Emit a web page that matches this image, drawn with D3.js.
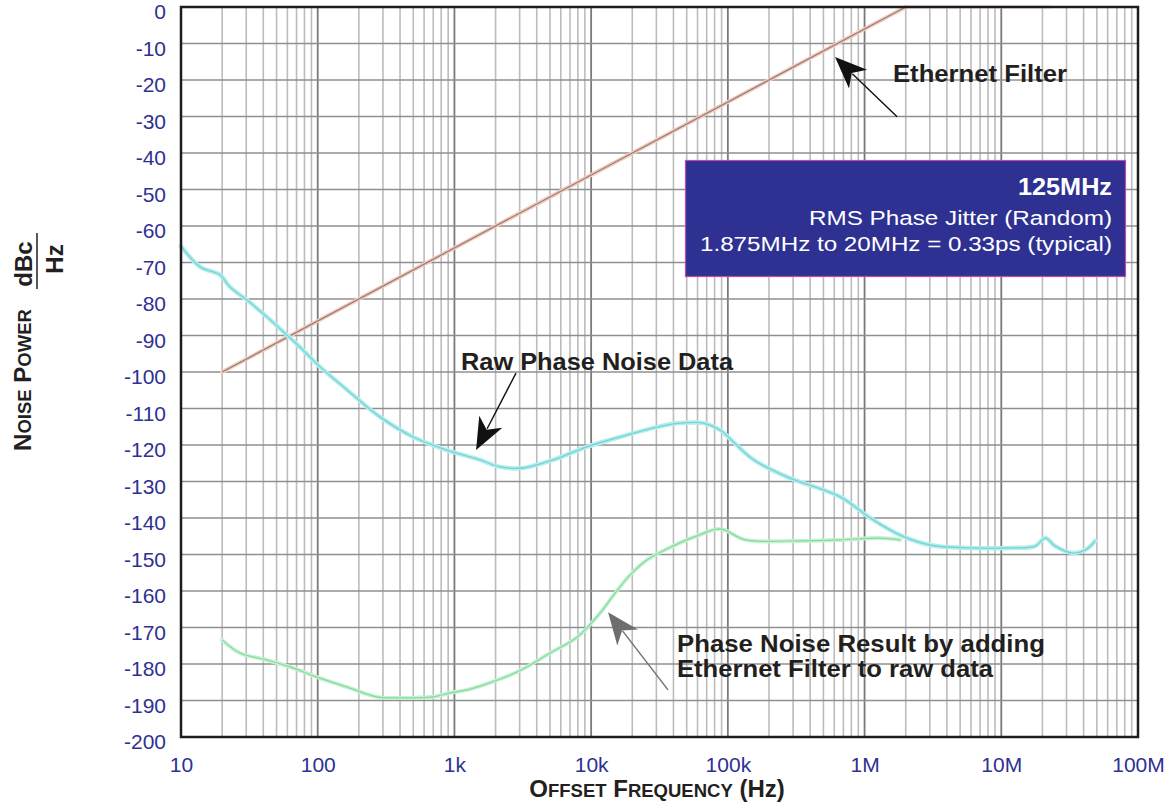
<!DOCTYPE html>
<meta charset="utf-8">
<style>
  body { margin: 0; background: #fff; }
  text { font-family: "Liberation Sans", Arial, Helvetica, sans-serif; }
</style>

<!-- Load d3.js -->
<script src="https://d3js.org/d3.v7.min.js"></script>

<div id="my_dataviz"></div>

<script>

// tick values and labels
var freqTicks = [10, 100, 1e3, 1e4, 1e5, 1e6, 1e7, 1e8];
var freqLabels = ["10", "100", "1k", "10k", "100k", "1M", "10M", "100M"];
var dbTicks = [0, -10, -20, -30, -40, -50, -60, -70, -80, -90, -100,
               -110, -120, -130, -140, -150, -160, -170, -180, -190, -200];

// raw phase noise
var rawFreq = [10, 13.8, 19.3, 22.8, 30.4, 42.5, 59.6, 74.3, 104, 164, 285, 499, 880,
               1540, 2160, 3170, 5270, 9320, 16300, 28600, 45000, 66000, 87800, 110000,
               155000, 273000, 662000, 1.1e6, 1.82e6, 3.01e6, 5.91e6, 1.16e7, 1.77e7,
               2.1e7, 2.48e7, 3.32e7, 4.1e7, 4.86e7];
var rawDb = [-65.5, -71.2, -73.4, -76.7, -80.3, -84.9, -89.9, -93.2, -98.6, -104.9, -112.3,
             -117.8, -121.4, -124.1, -126.0, -126.3, -124.1, -120.5, -117.8, -115.3, -114.0,
             -114.0, -115.9, -119.2, -124.1, -128.8, -134.2, -140.0, -144.7, -147.4, -148.2,
             -148.2, -147.7, -145.5, -147.7, -149.6, -148.8, -146.3];

// ethernet filter
var filterFreq = [20, 2e6];
var filterDb = [-100, 0];
var filterFlatFreq = [2e6, 2.27e7];
var filterFlatDb = [0, 0];

// raw data + filter
var resultFreq = [20, 27, 42.5, 62.7, 98.8, 172, 271, 400, 697, 930, 1240, 1620, 2870,
                  5020, 7930, 11650, 14600, 19300, 25600, 39500, 59500, 88000, 134000,
                  285000, 662000, 1.28e6, 1.82e6];
var resultDb = [-173.4, -177.0, -178.9, -180.8, -183.6, -186.6, -189.0, -189.3, -189.0,
                -187.9, -187.1, -185.8, -182.2, -177.0, -172.6, -166.0, -161.1, -155.6,
                -151.5, -147.7, -144.9, -143.0, -146.0, -146.3, -146.0, -145.5, -146.0];

// set the dimensions and margins of the graph
var margin = {top: 7, right: 27, bottom: 68, left: 181},
    width = 1165 - margin.left - margin.right,
    height = 805 - margin.top - margin.bottom;

var svg0 = d3.select("#my_dataviz")
  .append("svg")
    .attr("width", 1165)
    .attr("height", 805);

var svg = svg0.append("g")
    .attr("transform", "translate(" + margin.left + "," + margin.top + ")");

var x = d3.scaleLog().domain([10, 1e8]).range([0, width]);
var y = d3.scaleLinear().domain([-200, 0]).range([height, 0]);

// grid: minor log lines, then decades, then horizontal
var minor = [];
freqTicks.slice(0, -1).forEach(function(dec) {
  for (var k = 2; k <= 9; k++) minor.push(dec * k);
});
svg.append("g").selectAll("line").data(minor).enter().append("line")
  .attr("x1", function(d) { return x(d); }).attr("x2", function(d) { return x(d); })
  .attr("y1", 0).attr("y2", height)
  .attr("stroke", "#bcbcbc").attr("stroke-width", 1.6);
svg.append("g").selectAll("line").data(freqTicks).enter().append("line")
  .attr("x1", function(d) { return x(d); }).attr("x2", function(d) { return x(d); })
  .attr("y1", 0).attr("y2", height)
  .attr("stroke", "#7a7a7a").attr("stroke-width", 1.8);
svg.append("g").selectAll("line").data(dbTicks).enter().append("line")
  .attr("x1", 0).attr("x2", width)
  .attr("y1", function(d) { return y(d); }).attr("y2", function(d) { return y(d); })
  .attr("stroke", "#8f8f8f").attr("stroke-width", 1.6);

// curves
var line = d3.line()
  .x(function(d) { return x(d[0]); })
  .y(function(d) { return y(d[1]); })
  .curve(d3.curveCatmullRom.alpha(0.5));

function drawCurve(fx, dy, halo, core, hw, cw) {
  var pts = d3.zip(fx, dy);
  svg.append("path").datum(pts).attr("d", line)
    .attr("fill", "none").attr("stroke", halo).attr("stroke-width", hw)
    .attr("stroke-linejoin", "round").attr("stroke-linecap", "round");
  if (core) {
    svg.append("path").datum(pts).attr("d", line)
      .attr("fill", "none").attr("stroke", core).attr("stroke-width", cw)
      .attr("stroke-linejoin", "round");
  }
}

drawCurve(filterFlatFreq, filterFlatDb, "#f7d6cc", null, 3, 0);
drawCurve(filterFreq, filterDb, "#f1cdbf", "#9c7d74", 4, 1.3);
drawCurve(rawFreq, rawDb, "#b4eeee", "#78d2d2", 4.5, 1.3);
drawCurve(resultFreq, resultDb, "#c6f1d2", "#86da9f", 4, 1.2);

// frame
svg.append("rect")
  .attr("x", 0).attr("y", 0).attr("width", width).attr("height", height)
  .attr("fill", "none").attr("stroke", "#1c1c1c").attr("stroke-width", 2.5);

// axes
var yAxis = svg.append("g")
  .call(d3.axisLeft(y).tickValues(dbTicks).tickSize(0).tickPadding(15)
    .tickFormat(function(d) { return String(d); }));
yAxis.select(".domain").remove();
yAxis.selectAll("text")
  .attr("dy", "0.56em")
  .style("font-size", "21px").style("fill", "#2e3192")
  .style("font-family", "'Liberation Sans', Arial, sans-serif");

var xAxis = svg.append("g")
  .attr("transform", "translate(0," + height + ")")
  .call(d3.axisBottom(x).tickValues(freqTicks)
    .tickFormat(function(d, i) { return freqLabels[i]; })
    .tickSize(0).tickPadding(20));
xAxis.select(".domain").remove();
xAxis.selectAll("text")
  .style("font-size", "21px").style("fill", "#2e3192")
  .style("font-family", "'Liberation Sans', Arial, sans-serif");

// axis titles
var xt = svg0.append("text")
  .attr("x", 657).attr("y", 797)
  .attr("text-anchor", "middle")
  .attr("font-weight", "bold").attr("fill", "#231f20");
[["O", 24], ["FFSET", 18.5], [" F", 24], ["REQUENCY", 18.5], [" (Hz)", 24]].forEach(function(p) {
  xt.append("tspan").style("font-size", p[1] + "px").text(p[0]);
});

var yt = svg0.append("text")
  .attr("transform", "translate(31,380) rotate(-90)")
  .attr("text-anchor", "middle")
  .attr("font-weight", "bold").attr("fill", "#231f20");
[["N", 24], ["OISE", 18.5], [" P", 24], ["OWER", 18.5]].forEach(function(p) {
  yt.append("tspan").style("font-size", p[1] + "px").text(p[0]);
});

svg0.append("text")
  .attr("transform", "translate(32,264) rotate(-90)")
  .attr("text-anchor", "middle").attr("font-weight", "bold")
  .style("font-size", "24px").attr("fill", "#231f20").text("dBc");
svg0.append("line")
  .attr("x1", 37).attr("x2", 37).attr("y1", 233).attr("y2", 289)
  .attr("stroke", "#231f20").attr("stroke-width", 1.5);
svg0.append("text")
  .attr("transform", "translate(63,259) rotate(-90)")
  .attr("text-anchor", "middle").attr("font-weight", "bold")
  .style("font-size", "24px").attr("fill", "#231f20").text("Hz");

// info box
svg0.append("rect")
  .attr("x", 685.5).attr("y", 160.5).attr("width", 440).attr("height", 116)
  .attr("fill", "#2e3192").attr("stroke", "#c04aa8").attr("stroke-width", 1.2);
var box = [
  ["125MHz", 1018, 195, 23, "bold", 94],
  ["RMS Phase Jitter (Random)", 809, 225, 19.5, "normal", 303],
  ["1.875MHz to 20MHz = 0.33ps (typical)", 700, 251, 19.5, "normal", 412]
];
box.forEach(function(b) {
  svg0.append("text")
    .attr("x", b[1]).attr("y", b[2])
    .attr("textLength", b[5]).attr("lengthAdjust", "spacingAndGlyphs")
    .style("font-size", b[3] + "px").attr("font-weight", b[4])
    .attr("fill", "#ffffff").text(b[0]);
});

// annotations with arrows (tip and tail in data units)
function arrow(tip, tail, color) {
  var p0 = [x(tip[0]), y(tip[1])], p1 = [x(tail[0]), y(tail[1])];
  var dx = p1[0] - p0[0], dy = p1[1] - p0[1], len = Math.sqrt(dx * dx + dy * dy);
  var ux = dx / len, uy = dy / len, L = 32, W = 13;
  svg.append("line")
    .attr("x1", p0[0] + ux * 24).attr("y1", p0[1] + uy * 24)
    .attr("x2", p1[0]).attr("y2", p1[1])
    .attr("stroke", color).attr("stroke-width", 1.4);
  var pts = [
    p0,
    [p0[0] + ux * L - uy * W, p0[1] + uy * L + ux * W],
    [p0[0] + ux * L * 0.72, p0[1] + uy * L * 0.72],
    [p0[0] + ux * L + uy * W, p0[1] + uy * L - ux * W]
  ];
  svg.append("polygon").attr("points", pts.join(" ")).attr("fill", color);
}

arrow([6.08e5, -13.7], [1.73e6, -30.1], "#111111");
arrow([1440, -121.4], [2820, -100.3], "#111111");
arrow([13300, -165.8], [36500, -187.1], "#6e6e6e");

var notes = [
  ["Ethernet Filter", 893, 82, 174],
  ["Raw Phase Noise Data", 461, 370, 272],
  ["Phase Noise Result by adding", 677, 652, 368],
  ["Ethernet Filter to raw data", 677, 677, 316]
];
notes.forEach(function(n) {
  svg0.append("text")
    .attr("x", n[1]).attr("y", n[2])
    .attr("textLength", n[3]).attr("lengthAdjust", "spacingAndGlyphs")
    .style("font-size", "24px").attr("font-weight", "bold")
    .attr("fill", "#231f20").text(n[0]);
});

</script>
